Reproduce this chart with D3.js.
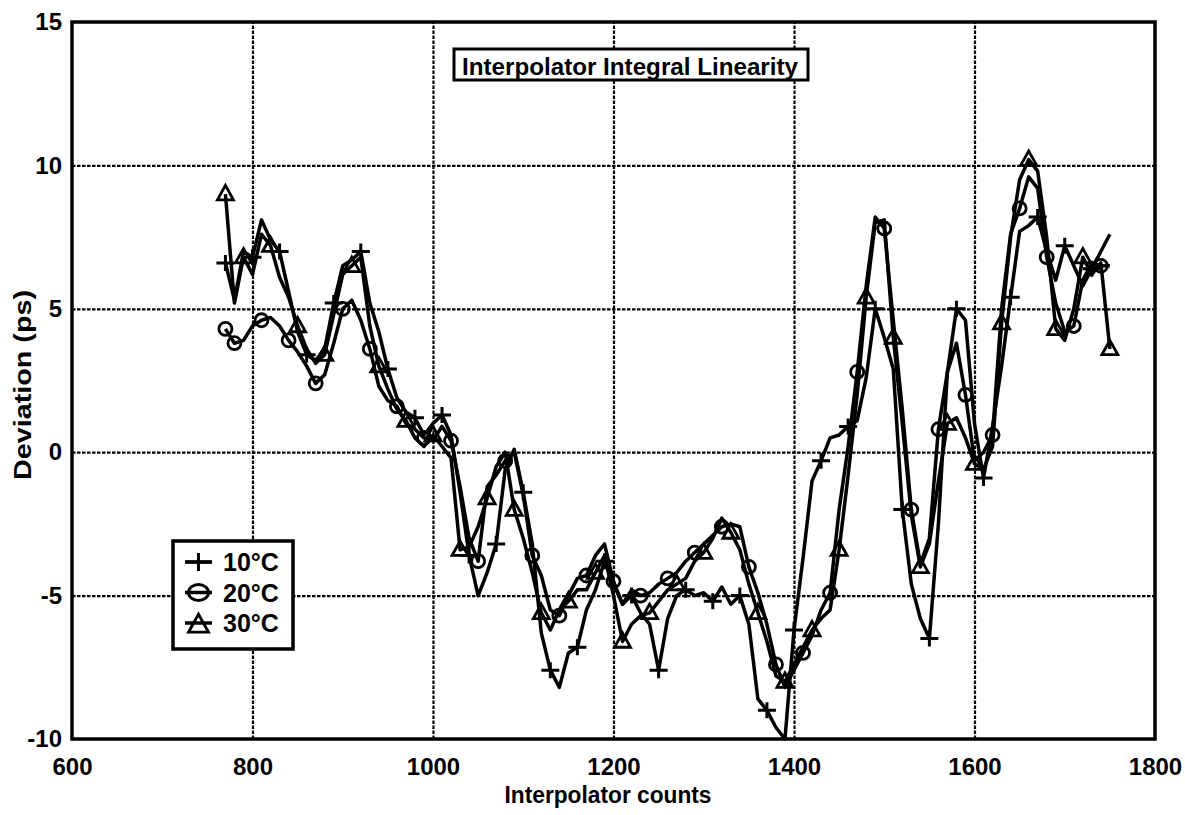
<!DOCTYPE html>
<html>
<head>
<meta charset="utf-8">
<script src="https://cdn.jsdelivr.net/npm/d3@7"></script>
<style>
  body { margin: 0; background: #fff; }
  text { font-family: "Liberation Sans", Arial, Helvetica, sans-serif; fill: #000; }
</style>
</head>
<body>
<div id="plt"></div>
<script>
// interpolator counts (shared x values)
var counts = [770, 780, 790, 800, 810, 820, 830, 840, 850, 860, 870, 880, 890, 900, 910, 920, 930, 940, 950, 960,
              970, 980, 990, 1000, 1010, 1020, 1030, 1040, 1050, 1060, 1070, 1080, 1090, 1100, 1110, 1120, 1130, 1140, 1150, 1160,
              1170, 1180, 1190, 1200, 1210, 1220, 1230, 1240, 1250, 1260, 1270, 1280, 1290, 1300, 1310, 1320, 1330, 1340, 1350, 1360,
              1370, 1380, 1390, 1400, 1410, 1420, 1430, 1440, 1450, 1460, 1470, 1480, 1490, 1500, 1510, 1520, 1530, 1540, 1550, 1560,
              1570, 1580, 1590, 1600, 1610, 1620, 1630, 1640, 1650, 1660, 1670, 1680, 1690, 1700, 1710, 1720, 1730, 1740, 1750];

// deviation (ps) for each temperature
var dev10 = [6.6, 5.3, 7.0, 6.8, 8.1, 7.4, 7.0, 5.6, 4.2, 3.4, 3.2, 3.6, 5.2, 6.5, 6.7, 7.0, 5.2, 4.2, 2.9, 1.9,
             1.4, 1.2, 0.6, 1.0, 1.3, 0.6, -1.4, -3.6, -5.0, -4.2, -3.2, -0.6, 0.1, -1.4, -3.2, -6.3, -7.6, -8.2, -7.0, -6.8,
             -5.5, -4.8, -3.8, -4.6, -5.3, -5.0, -5.6, -6.0, -7.6, -5.8, -5.0, -4.8, -5.0, -4.9, -5.2, -4.7, -5.3, -5.0, -6.0, -8.6,
             -9.0, -9.6, -10.0, -6.2, -3.7, -1.0, -0.3, 0.5, 0.6, 0.9, 1.1, 2.6, 5.0, 4.0, 2.9, -2.0, -4.6, -5.8, -6.5, -2.5,
             2.8, 5.0, 4.6, 1.0, -0.9, 0.9, 3.0, 5.4, 7.7, 7.9, 8.2, 7.0, 6.0, 7.2, 6.5, 5.8, 6.4, 7.0, 7.6];

var dev20 = [4.3, 3.8, 3.9, 4.4, 4.6, 4.7, 4.4, 3.9, 3.5, 3.0, 2.4, 2.7, 3.8, 5.0, 5.3, 4.6, 3.6, 2.3, 1.8, 1.6,
             1.0, 0.8, 0.5, 0.4, 0.9, 0.4, -1.2, -3.0, -3.8, -1.2, -0.8, -0.3, 0.0, -1.5, -3.6, -4.3, -5.5, -5.7, -5.0, -4.4,
             -4.3, -3.6, -3.2, -4.5, -5.3, -4.8, -5.0, -4.9, -4.6, -4.4, -4.2, -3.8, -3.5, -3.2, -2.9, -2.6, -2.5, -2.6, -4.0, -4.9,
             -6.0, -7.4, -8.2, -7.6, -7.0, -6.4, -5.5, -4.9, -2.0, 0.2, 2.8, 5.8, 8.2, 7.8, 4.6, 1.5, -2.0, -3.9, -3.0, 0.8,
             2.8, 3.8, 2.0, -0.3, 0.0, 0.6, 5.0, 7.6, 8.5, 9.6, 9.2, 6.8, 5.2, 4.2, 4.4, 6.0, 6.6, 6.5, 6.5];

var dev30 = [9.0, 5.2, 6.8, 6.2, 7.6, 7.2, 6.1, 5.4, 4.4, 3.6, 3.1, 3.4, 4.8, 6.2, 6.5, 6.8, 4.4, 3.0, 2.2, 1.5,
             1.1, 0.5, 0.2, 0.6, 0.2, -0.2, -3.4, -3.3, -2.6, -1.6, -0.5, 0.0, -2.0, -3.0, -4.2, -5.6, -6.2, -5.5, -5.2, -4.8,
             -4.8, -4.2, -3.6, -5.0, -6.6, -6.0, -5.7, -5.6, -5.2, -4.8, -4.6, -4.4, -3.8, -3.5, -3.0, -2.3, -2.8, -3.4, -4.6, -5.6,
             -6.6, -7.8, -8.0, -7.4, -6.8, -6.2, -5.8, -5.5, -3.4, -0.8, 2.0, 5.4, 8.0, 8.1, 4.0, 1.0, -2.2, -4.0, -3.2, -1.0,
             1.0, 1.2, 0.5, -0.4, -0.6, 0.2, 4.5, 7.5, 9.5, 10.2, 9.8, 7.5, 4.3, 3.9, 5.0, 6.8, 6.2, 6.6, 3.6];

var seriesNames = ["10\u00B0C", "20\u00B0C", "30\u00B0C"];
var xTicks = [600, 800, 1000, 1200, 1400, 1600, 1800];
var yTicks = [-10, -5, 0, 5, 10, 15];

// set the dimensions and margins of the plot
var margin = {top: 22, right: 30, bottom: 76, left: 72};
var width = 1155 - margin.left;
var height = 739 - margin.top;

var svg = d3.select("#plt")
            .append("svg")
            .attr("width", 1185)
            .attr("height", 815)
            .append("g")
            .attr("transform", "translate(" + margin.left + "," + margin.top + ")");

var x = d3.scaleLinear().domain([600, 1800]).range([0, width]);
var y = d3.scaleLinear().domain([-10, 15]).range([height, 0]);

// dotted grid
svg.append("g")
   .attr("class", "grid")
   .attr("transform", "translate(0," + height + ")")
   .call(d3.axisBottom(x).tickValues(xTicks.slice(1, -1)).tickSize(-height).tickFormat(""));
svg.append("g")
   .attr("class", "grid")
   .call(d3.axisLeft(y).tickValues(yTicks.slice(1, -1)).tickSize(-width).tickFormat(""));
svg.selectAll(".grid .domain").remove();
svg.selectAll(".grid line")
   .attr("stroke", "#000")
   .attr("stroke-width", 2.2)
   .attr("stroke-dasharray", "3.5,1.5");

// tick labels (plain numbers, hyphen minus)
var plain = function(d) { return String(d); };
var xAxis = svg.append("g")
   .attr("transform", "translate(0," + height + ")")
   .call(d3.axisBottom(x).tickValues(xTicks).tickSize(0).tickPadding(19).tickFormat(plain));
var yAxis = svg.append("g")
   .call(d3.axisLeft(y).tickValues(yTicks).tickSize(0).tickPadding(10).tickFormat(plain));
xAxis.select(".domain").remove();
yAxis.select(".domain").remove();
svg.selectAll(".tick text")
   .style("font-family", "'Liberation Sans', Arial, sans-serif")
   .style("font-size", "24px")
   .style("font-weight", "bold")
   .attr("fill", "#000");

// lines
var line = d3.line()
   .x(function(d) { return x(d[0]); })
   .y(function(d) { return y(d[1]); });

var allSeries = [dev10, dev20, dev30].map(function(vals) {
  return counts.map(function(c, i) { return [c, vals[i]]; });
});

allSeries.forEach(function(pts) {
  svg.append("path")
     .datum(pts)
     .attr("fill", "none")
     .attr("stroke", "#000")
     .attr("stroke-width", 3.5)
     .attr("stroke-linejoin", "round")
     .attr("d", line);
});

// marker shapes
function drawPlus(g, cx, cy, w, h) {
  g.append("path")
   .attr("d", "M" + (cx - w / 2) + "," + cy + "H" + (cx + w / 2) + "M" + cx + "," + (cy - h / 2) + "V" + (cy + h / 2))
   .attr("stroke", "#000").attr("stroke-width", 3).attr("fill", "none");
}
function drawCircle(g, cx, cy, r) {
  g.append("circle")
   .attr("cx", cx).attr("cy", cy).attr("r", r)
   .attr("stroke", "#000").attr("stroke-width", 2.8).attr("fill", "none");
}
function drawTriangle(g, cx, cy, s) {
  var h = s * 0.9;
  g.append("path")
   .attr("d", "M" + cx + "," + (cy - h * 0.6) + "L" + (cx + s / 2) + "," + (cy + h * 0.4) + "L" + (cx - s / 2) + "," + (cy + h * 0.4) + "Z")
   .attr("stroke", "#000").attr("stroke-width", 2.8).attr("fill", "none");
}

var markers = svg.append("g");
allSeries.forEach(function(pts, k) {
  pts.forEach(function(p, i) {
    if (i !== 0 && i % 3 !== k) return;
    var cx = x(p[0]), cy = y(p[1]);
    if (k === 0) drawPlus(markers, cx, cy, 18, 16);
    if (k === 1) drawCircle(markers, cx, cy, 6.5);
    if (k === 2) drawTriangle(markers, cx, cy, 16);
  });
});

// frame
svg.append("rect")
   .attr("width", width).attr("height", height)
   .attr("fill", "none").attr("stroke", "#000").attr("stroke-width", 3.5);

// title box
var tg = svg.append("g");
tg.append("rect")
  .attr("x", 454 - margin.left).attr("y", 49 - margin.top).attr("width", 354).attr("height", 31)
  .attr("fill", "#fff").attr("stroke", "#000").attr("stroke-width", 3);
tg.append("text")
  .attr("x", 462 - margin.left).attr("y", 75 - margin.top)
  .attr("textLength", 336).attr("lengthAdjust", "spacingAndGlyphs")
  .style("font-size", "23px")
  .style("font-weight", "bold")
  .text("Interpolator Integral Linearity");

// legend
var lg = svg.append("g").attr("transform", "translate(" + (173 - margin.left) + "," + (541 - margin.top) + ")");
lg.append("rect")
  .attr("width", 120).attr("height", 108)
  .attr("fill", "#fff").attr("stroke", "#000").attr("stroke-width", 3.5);
seriesNames.forEach(function(name, k) {
  var cy = 21 + k * 30.5;
  lg.append("line")
    .attr("x1", 12).attr("x2", 39).attr("y1", cy).attr("y2", cy)
    .attr("stroke", "#000").attr("stroke-width", 3.5);
  if (k === 0) drawPlus(lg, 25.5, cy, 27, 18);
  if (k === 1) lg.append("ellipse").attr("cx", 25.5).attr("cy", cy).attr("rx", 10).attr("ry", 8)
                 .attr("stroke", "#000").attr("stroke-width", 3).attr("fill", "none");
  if (k === 2) drawTriangle(lg, 25.5, cy + 2, 20);
  lg.append("text")
    .attr("x", 50).attr("y", cy + 9)
    .style("font-size", "25px")
    .style("font-weight", "bold")
    .text(name);
});

// axis titles
svg.append("text")
   .attr("x", 608 - margin.left).attr("y", 803 - margin.top)
   .attr("text-anchor", "middle")
   .attr("textLength", 207).attr("lengthAdjust", "spacingAndGlyphs")
   .style("font-size", "23px")
   .style("font-weight", "bold")
   .text("Interpolator counts");

svg.append("text")
   .attr("transform", "translate(" + (31 - margin.left) + "," + (385 - margin.top) + ")rotate(-90)")
   .attr("text-anchor", "middle")
   .attr("textLength", 190).attr("lengthAdjust", "spacingAndGlyphs")
   .style("font-size", "23px")
   .style("font-weight", "bold")
   .text("Deviation (ps)");
</script>
</body>
</html>
